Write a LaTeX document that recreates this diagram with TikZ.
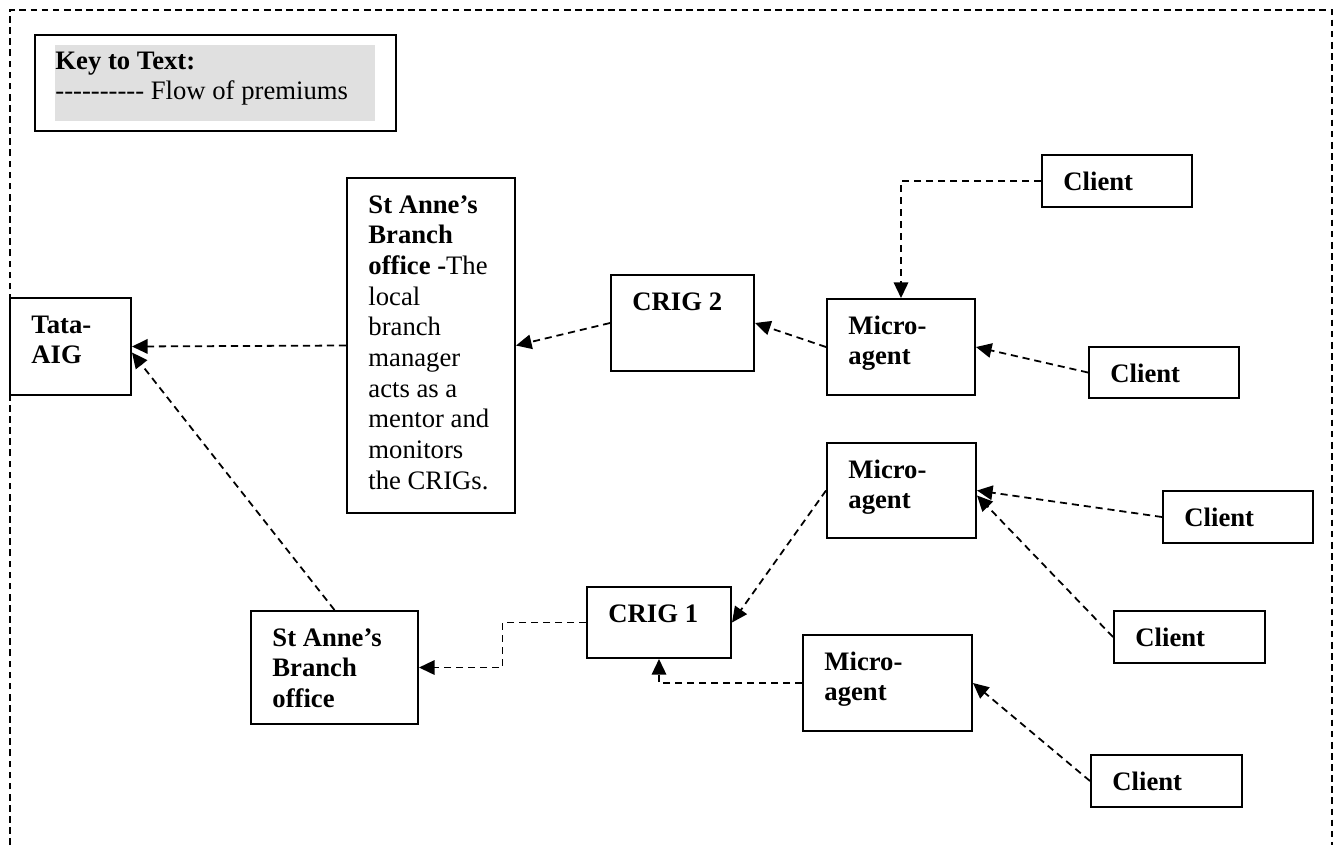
\documentclass[tikz,border=0pt]{standalone}
\usepackage{fontspec}
\setmainfont{Liberation Serif}
\usetikzlibrary{arrows.meta,calc}
\definecolor{keygrey}{HTML}{E0E0E0}
\newcommand\hy{-\kern0pt}
\newcommand\lines[1]{\begin{tabular}[t]{@{}l@{}}#1\end{tabular}}
\tikzset{
  box/.style={draw, line width=0.9pt, inner sep=0pt},
  txt/.style={anchor=base west, inner sep=0pt, font=\fontsize{12pt}{13.8pt}\selectfont},
  flow/.style={line width=0.8pt, dash pattern=on 3.2pt off 2.2pt, -{Triangle[length=7pt,width=6.5pt]}},
  frame/.style={line width=0.65pt, dash pattern=on 3pt off 2pt}
}
\newcommand\bx[6]{%
  \node[box, minimum width={(#4-#2)*0.45pt}, minimum height={(#5-#3)*0.45pt}] (#1) at ({(#2+#4)/2},{(#3+#5)/2}) {};
  \node[txt] (#1-t) at ({#2+21},{#3+35}) {\lines{#6}};
}
\begin{document}
\begin{tikzpicture}[x=0.45pt,y=-0.45pt]
\useasboundingbox (0,0) rectangle (1339,845);
% outer dashed frame (open at the bottom)
\coordinate (f1) at (10,845);
\coordinate (f2) at (10,10);
\coordinate (f3) at (1332,10);
\coordinate (f4) at (1332,845);
\draw[frame] (f1) -- (f2) -- (f3) -- (f4);
% key
\node[draw, line width=1.1pt, inner sep=0pt, minimum width={361*0.45pt}, minimum height={96*0.45pt}] (key) at ({(35+396)/2},{(35+131)/2}) {};
\node[fill=keygrey, inner sep=0pt, minimum width={320*0.45pt}, minimum height={76*0.45pt}] (keybg) at ({(55+375)/2},{(45+121)/2}) {};
\node[txt] (key-t) at (55,69) {\lines{\textbf{Key to Text:}\\\hy\hy\hy\hy\hy\hy\hy\hy\hy\hy\ Flow of premiums}};
% boxes
\bx{tata}{10}{298}{131}{395}{\textbf{Tata-}\\\textbf{AIG}}
\bx{sa1}{347}{178}{515}{513}{\textbf{St Anne’s}\\\textbf{Branch}\\\textbf{office -}The\\local\\branch\\manager\\acts as a\\mentor and\\monitors\\the CRIGs.}
\bx{crig2}{611}{275}{754}{371}{\textbf{CRIG 2}}
\bx{mA}{827}{299}{975}{395}{\textbf{Micro-}\\\textbf{agent}}
\bx{cA}{1042}{155}{1192}{207}{\textbf{Client}}
\bx{cB}{1089}{347}{1239}{398}{\textbf{Client}}
\bx{mB}{827}{443}{976}{538}{\textbf{Micro-}\\\textbf{agent}}
\bx{cC}{1163}{491}{1313}{543}{\textbf{Client}}
\bx{cD}{1114}{611}{1265}{663}{\textbf{Client}}
\bx{crig1}{587}{587}{731}{658}{\textbf{CRIG 1}}
\bx{mC}{803}{635}{972}{731}{\textbf{Micro-}\\\textbf{agent}}
\bx{cE}{1091}{755}{1242}{807}{\textbf{Client}}
\bx{sa2}{251}{611}{418}{724}{\textbf{St Anne’s}\\\textbf{Branch}\\\textbf{office}}
% flows of premiums
\draw[flow] (sa1.west) -- (tata.east);
\draw[flow] (sa2.north) -- ($(tata.east)+(0,6)$);
\draw[flow] (crig2.west) -- (sa1.east);
\draw[flow] (mA.west) -- (crig2.east);
\draw[flow] (cA.west) -| (mA.north);
\draw[flow] (cB.west) -- (mA.east);
\draw[flow] (mB.west) -- (crig1.east);
\draw[flow] (cC.west) -- (mB.east);
\draw[flow] (cD.west) -- ($(mB.east)+(0,5)$);
\draw[flow] (mC.west) -| (crig1.south);
\draw[flow] (crig1.west) -| ($(crig1.west)!.5!(sa2.east)$) |- (sa2.east);
\draw[flow] (cE.west) -- (mC.east);
\end{tikzpicture}
\end{document}
